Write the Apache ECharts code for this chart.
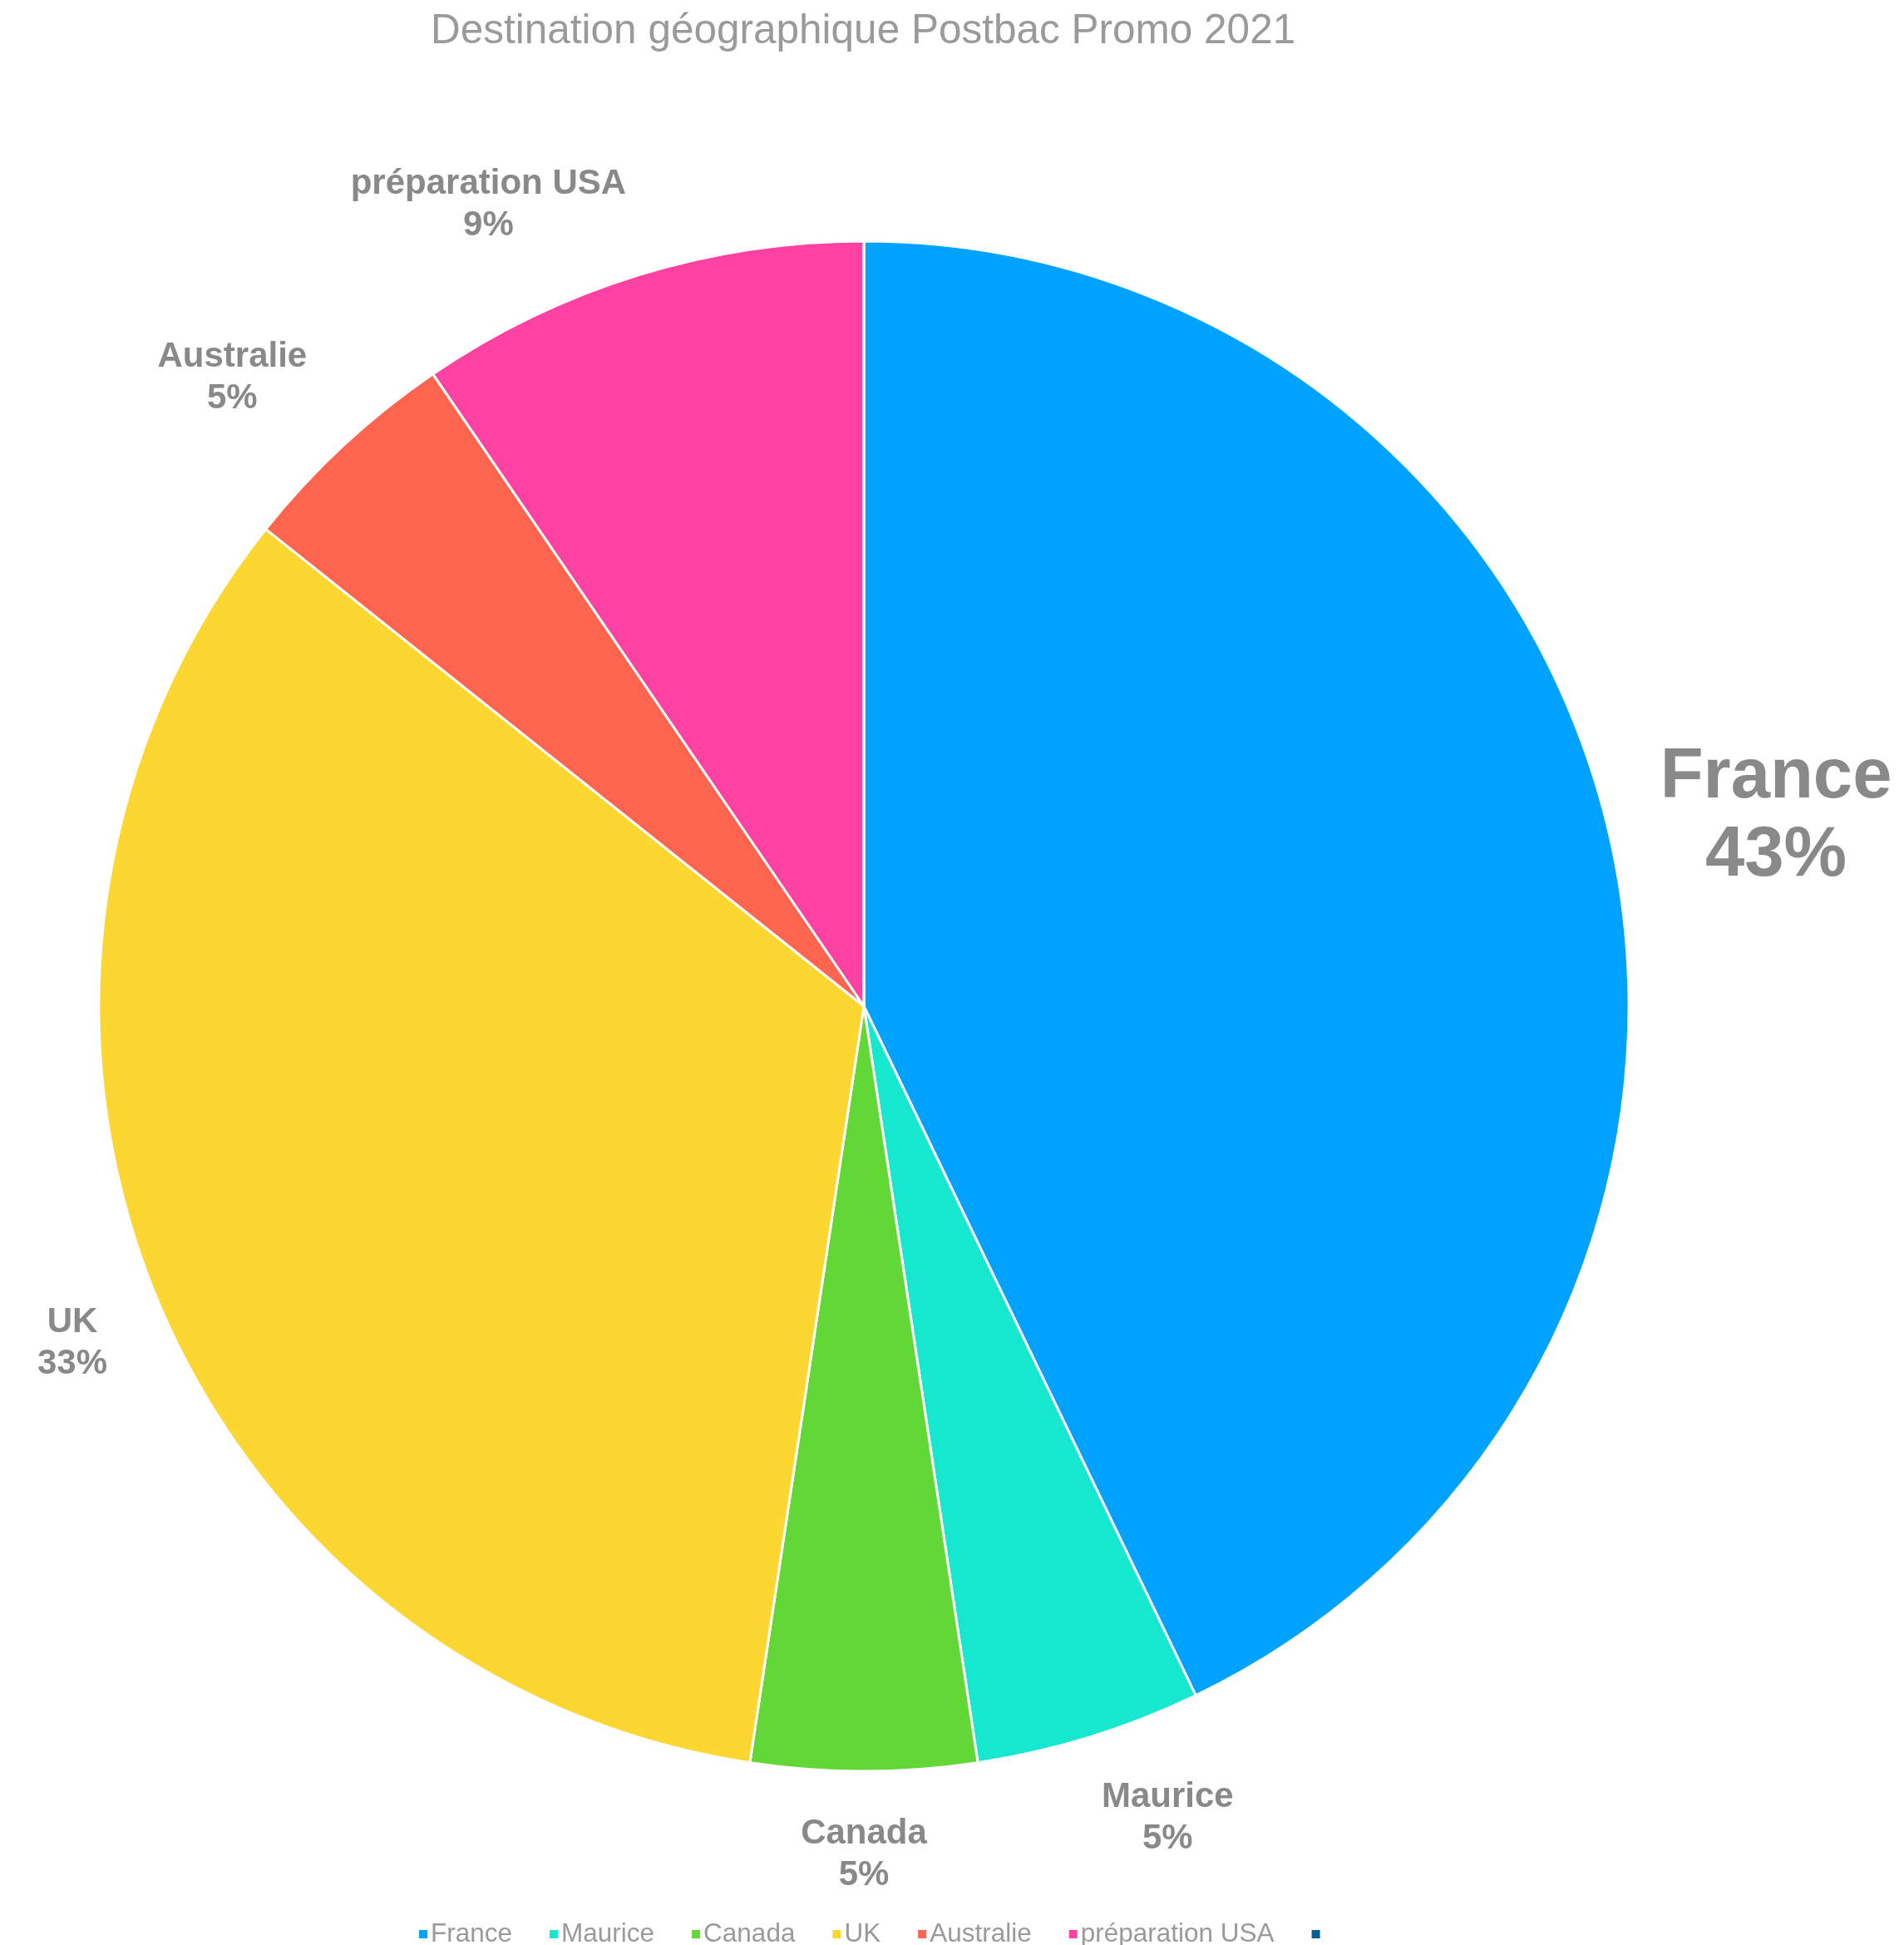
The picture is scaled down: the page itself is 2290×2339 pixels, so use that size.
<!DOCTYPE html>
<html>
<head>
<meta charset="utf-8">
<script src="https://cdn.jsdelivr.net/npm/echarts@6/dist/echarts.min.js"></script>
<style>
html,body{margin:0;padding:0;background:#fff;}
#main{width:2290px;height:2339px;}
</style>
</head>
<body>
<div id="main"></div>
<script>
// ---- data ----
const titleText = 'Destination géographique Postbac Promo 2021';
const categories = ['France', 'Maurice', 'Canada', 'UK', 'Australie', 'préparation USA', ' '];
const counts = [9, 1, 1, 7, 1, 2, 0];
const colors = ['#00A2FF', '#16E7CF', '#61D836', '#FDD731', '#FF644E', '#FF42A1', '#005E92'];

// percentages rounded with largest remainder (sum = 100)
function roundedPercents(vals) {
  const total = vals.reduce((a, b) => a + b, 0);
  const raw = vals.map(v => v / total * 100);
  const fl = raw.map(Math.floor);
  let left = 100 - fl.reduce((a, b) => a + b, 0);
  const order = raw.map((r, i) => [r - Math.floor(r), i]).sort((a, b) => b[0] - a[0]);
  for (let k = 0; k < left; k++) fl[order[k][1]] += 1;
  return fl;
}
const pcts = roundedPercents(counts);

// label placement style (pixel nudges, layout only)
const GAP = 50;
const labelNudge = {0: [12, 30], 3: [-7, 15], 4: [-10, 5], 5: [0, 13]};
function clamp(v, a, b) { return Math.max(a, Math.min(b, v)); }

const chart = echarts.init(document.getElementById('main'), null, {renderer: 'canvas'});
const labelColor = '#898989';

const seriesData = categories.map((name, i) => {
  const item = {name: name, value: counts[i], itemStyle: {color: colors[i]}};
  if (counts[i] === 0) {
    item.label = {show: false};
    item.labelLine = {show: false};
  }
  if (i === 0) {
    item.label = {fontSize: 85, lineHeight: 94};
  }
  return item;
});

chart.setOption({
  animation: false,
  backgroundColor: '#ffffff',
  title: {
    text: titleText,
    left: 513,
    top: 8,
    textStyle: {
      fontFamily: 'Liberation Sans',
      fontWeight: 'normal',
      fontSize: 49.5,
      color: '#9a9a9a'
    }
  },
  legend: {
    data: categories,
    left: 497,
    top: 2305,
    icon: 'rect',
    itemWidth: 12,
    itemHeight: 12,
    itemGap: 43,
    selectedMode: false,
    textStyle: {
      fontFamily: 'Liberation Sans',
      fontSize: 31.5,
      color: '#9a9a9a',
      padding: [0, 0, 0, -2]
    }
  },
  series: [{
    type: 'pie',
    center: [1039, 1210],
    radius: 920,
    startAngle: 90,
    clockwise: true,
    avoidLabelOverlap: false,
    data: seriesData,
    itemStyle: {borderColor: '#ffffff', borderWidth: 3},
    label: {
      show: true,
      position: 'outside',
      formatter: p => p.name + '\n' + pcts[p.dataIndex] + '%',
      fontFamily: 'Liberation Sans',
      fontWeight: 'bold',
      fontSize: 42,
      lineHeight: 50,
      color: labelColor
    },
    labelLine: {show: true, length: 20, length2: 10, lineStyle: {width: 0, opacity: 0}},
    emphasis: {disabled: true},
    labelLayout: function (p) {
      const pts = p.labelLinePoints;
      if (!pts || pts.length < 2) return {};
      const x0 = pts[0][0], y0 = pts[0][1];
      let nx = pts[1][0] - x0, ny = pts[1][1] - y0;
      const L = Math.hypot(nx, ny) || 1;
      nx /= L; ny /= L;
      const ax = x0 + nx * GAP, ay = y0 + ny * GAP;
      const w = p.labelRect.width, h = p.labelRect.height;
      const fx = clamp(0.5 - 2 * nx, 0, 1);
      const fy = clamp(0.5 - ny, 0, 1);
      const nd = labelNudge[p.dataIndex] || [0, 0];
      return {
        x: ax - fx * w + w / 2 + nd[0],
        y: ay - fy * h + h / 2 + nd[1],
        align: 'center',
        verticalAlign: 'middle'
      };
    }
  }]
});
</script>
</body>
</html>
